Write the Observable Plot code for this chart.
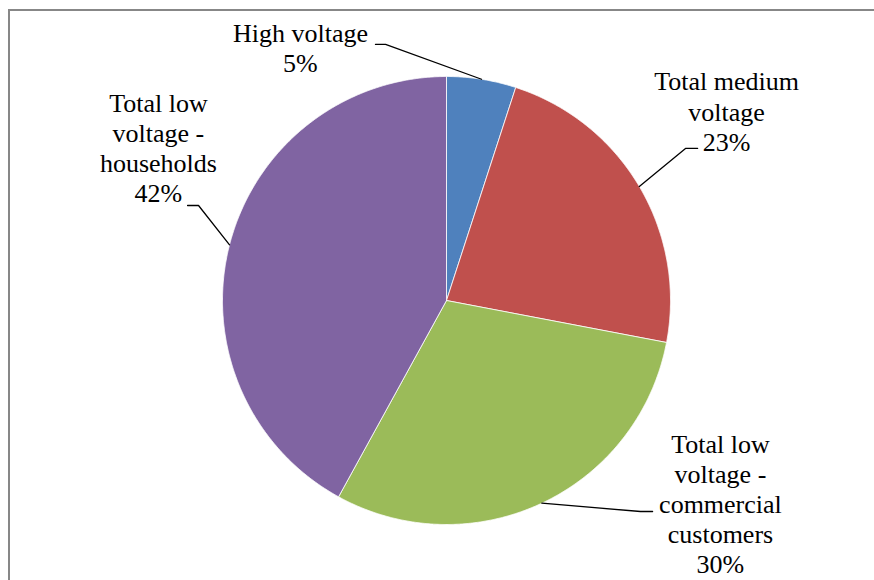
<!DOCTYPE html>
<html>
<head>
<meta charset="utf-8">
<script src="https://cdn.jsdelivr.net/npm/d3@7"></script>
<script src="https://cdn.jsdelivr.net/npm/@observablehq/plot@0.6"></script>
<style>
  html, body { margin: 0; padding: 0; background: #fff; }
  #wrap { position: relative; width: 874px; height: 580px; overflow: hidden; }
  #frame { position: absolute; left: 8px; top: 9px; width: 1000px; height: 1000px;
           border-left: 2px solid #878787; border-top: 2px solid #878787; pointer-events: none; }
</style>
</head>
<body>
<div id="wrap"><div id="chart"></div><div id="frame"></div></div>
<script>
// ---- data ----
const categories = [
  "High voltage",
  "Total medium voltage",
  "Total low voltage - commercial customers",
  "Total low voltage - households"
];
const shares = [5, 23, 30, 42];
const labelNames = [
  "High voltage",
  "Total medium\nvoltage",
  "Total low\nvoltage -\ncommercial\ncustomers",
  "Total low\nvoltage -\nhouseholds"
];
const colors = ["#4F81BD", "#C0504D", "#9BBB59", "#8064A2"];

// ---- label layout (in pie-radius units) ----
const labelLayout = [
  {elbow: [-0.272, 1.143], end: [-0.317, 1.143], label: [-0.652, 1.132]},
  {elbow: [1.067, 0.679],  end: [1.121, 0.679],  label: [1.25, 0.846]},
  {elbow: [0.866, -0.942], end: [0.920, -0.942], label: [1.223, -0.906]},
  {elbow: [-1.107, 0.424], end: [-1.156, 0.424], label: [-1.286, 0.683]}
];

const arcs = d3.pie().sort(null).value(d => d)(shares);

const slicePts = [];
arcs.forEach((a, i) => {
  const name = categories[i];
  slicePts.push({name, x: 0, y: 0});
  const n = Math.max(2, Math.ceil((a.endAngle - a.startAngle) / 0.005));
  for (let k = 0; k <= n; k++) {
    const t = a.startAngle + (a.endAngle - a.startAngle) * k / n;
    slicePts.push({name, x: Math.sin(t), y: Math.cos(t)});
  }
  slicePts.push({name, x: 0, y: 0});
});

const leaderPts = [];
arcs.forEach((a, i) => {
  const name = categories[i];
  const m = (a.startAngle + a.endAngle) / 2;
  const L = labelLayout[i];
  leaderPts.push({name, x: Math.sin(m), y: Math.cos(m)});
  leaderPts.push({name, x: L.elbow[0], y: L.elbow[1]});
  leaderPts.push({name, x: L.end[0], y: L.end[1]});
});

const labels = categories.map((c, i) => ({
  name: c,
  text: labelNames[i] + "\n" + shares[i] + "%",
  x: labelLayout[i].label[0],
  y: labelLayout[i].label[1]
}));

const chart = Plot.plot({
  width: 874,
  height: 580,
  marginLeft: 222,
  marginRight: 204,
  marginTop: 76,
  marginBottom: 56,
  style: {background: "transparent", overflow: "visible"},
  x: {domain: [-1, 1], axis: null},
  y: {domain: [-1, 1], axis: null},
  color: {domain: categories, range: colors},
  marks: [
    Plot.line(slicePts, {x: "x", y: "y", z: "name", fill: "name", stroke: "white", strokeWidth: 0.8, curve: "linear"}),
    Plot.line(leaderPts, {x: "x", y: "y", z: "name", stroke: "black", strokeWidth: 1.3, curve: "linear"}),
    Plot.text(labels, {
      x: "x", y: "y", text: "text",
      fontFamily: "Liberation Serif",
      fontSize: 26, lineHeight: 1.16,
      textAnchor: "middle", lineAnchor: "middle",
      fill: "black"
    })
  ]
});
document.getElementById("chart").appendChild(chart);
</script>
</body>
</html>
